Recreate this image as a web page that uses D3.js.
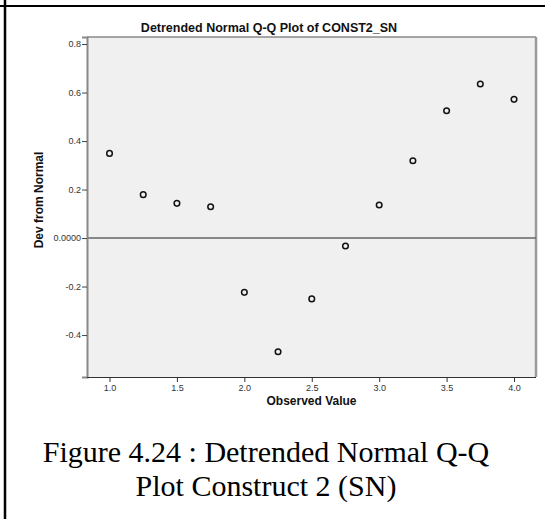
<!DOCTYPE html>
<html>
<head>
<meta charset="utf-8">
<script src="https://cdn.jsdelivr.net/npm/d3@7"></script>
<style>
  html, body { margin: 0; padding: 0; background: #fff; }
  svg { display: block; }
</style>
</head>
<body>
<svg id="chart" width="546" height="519"></svg>
<script>
// ---- data ----
const observedValues = [1.0, 1.25, 1.5, 1.75, 2.0, 2.25, 2.5, 2.75, 3.0, 3.25, 3.5, 3.75, 4.0];
const devFromNormal  = [0.349, 0.179, 0.143, 0.129, -0.224, -0.469, -0.251, -0.033, 0.136, 0.319, 0.525, 0.635, 0.572];
const xTicks = [1.0, 1.5, 2.0, 2.5, 3.0, 3.5, 4.0];
const yTicks = [0.8, 0.6, 0.4, 0.2, 0.0, -0.2, -0.4];
const chartTitle = "Detrended Normal Q-Q Plot of CONST2_SN";
const xTitle = "Observed Value";
const yTitle = "Dev from Normal";
const captionLines = ["Figure 4.24 : Detrended Normal Q-Q", "Plot Construct 2 (SN)"];

// ---- layout ----
const svg = d3.select("#chart");
const plot = { left: 87, right: 536, top: 37, bottom: 377 };
const x = d3.scaleLinear().domain([0.833, 4.163]).range([plot.left, plot.right]);
const y = d3.scaleLinear().domain([-0.573, 0.829]).range([plot.bottom, plot.top]);
const sans = "'Liberation Sans', Arial, sans-serif";
const locale = d3.formatLocale({ decimal: ".", thousands: ",", grouping: [3], currency: ["", ""], minus: "-" });
const f1 = locale.format(".1f");

// page border (table cell lines)
svg.append("line").attr("x1", 0).attr("x2", 545).attr("y1", 6).attr("y2", 6)
  .attr("stroke", "#000").attr("stroke-width", 2);
svg.append("line").attr("x1", 5).attr("x2", 5).attr("y1", 0).attr("y2", 519)
  .attr("stroke", "#000").attr("stroke-width", 2.5);

// plot background
svg.append("rect")
  .attr("x", plot.left).attr("y", plot.top)
  .attr("width", plot.right - plot.left).attr("height", plot.bottom - plot.top)
  .attr("fill", "#f0f0f0");

// frame: top + right gray
svg.append("line").attr("x1", plot.left).attr("x2", plot.right).attr("y1", plot.top).attr("y2", plot.top)
  .attr("stroke", "#8a8a8a").attr("stroke-width", 1.5);
svg.append("line").attr("x1", plot.right).attr("x2", plot.right).attr("y1", plot.top).attr("y2", plot.bottom)
  .attr("stroke", "#9a9a9a").attr("stroke-width", 2.5);

// zero reference line
svg.append("line")
  .attr("x1", plot.left).attr("x2", plot.right)
  .attr("y1", y(0)).attr("y2", y(0))
  .attr("stroke", "#666").attr("stroke-width", 1.6);

// y axis
const yAxis = d3.axisLeft(y).tickValues(yTicks).tickSize(5).tickPadding(1)
  .tickFormat(d => d === 0 ? "0.0000" : f1(d));
const gy = svg.append("g").attr("transform", `translate(${plot.left},0)`).call(yAxis);
gy.select(".domain").attr("stroke", "#888").attr("stroke-width", 2);
gy.selectAll(".tick line").attr("stroke", "#444").attr("stroke-width", 1);
gy.selectAll(".tick text").attr("font-family", sans).attr("font-size", 9).attr("fill", "#333");

// x axis
const xAxis = d3.axisBottom(x).tickValues(xTicks).tickSize(5).tickPadding(3)
  .tickFormat(f1);
const gx = svg.append("g").attr("transform", `translate(0,${plot.bottom})`).call(xAxis);
gx.select(".domain").attr("stroke", "#333").attr("stroke-width", 1.2)
  .attr("d", `M${plot.left},0.5H${plot.right}`);
gx.selectAll(".tick line").attr("stroke", "#333");
gx.selectAll(".tick text").attr("font-family", sans).attr("font-size", 9).attr("fill", "#333");

// points
svg.append("g").selectAll("circle")
  .data(observedValues.map((v, i) => ({ x: v, y: devFromNormal[i] })))
  .join("circle")
  .attr("cx", d => x(d.x)).attr("cy", d => y(d.y))
  .attr("r", 2.8)
  .attr("fill", "none").attr("stroke", "#111").attr("stroke-width", 1.5);

// titles
svg.append("text").attr("x", 269).attr("y", 32).attr("text-anchor", "middle")
  .attr("font-family", sans).attr("font-weight", "bold").attr("font-size", 12.5)
  .attr("fill", "#111").text(chartTitle);
svg.append("text").attr("x", (plot.left + plot.right) / 2).attr("y", 405).attr("text-anchor", "middle")
  .attr("font-family", sans).attr("font-weight", "bold").attr("font-size", 12)
  .attr("fill", "#111").text(xTitle);
svg.append("text").attr("transform", "translate(43,200) rotate(-90)").attr("text-anchor", "middle")
  .attr("font-family", sans).attr("font-weight", "bold").attr("font-size", 12)
  .attr("fill", "#111").text(yTitle);

// caption
svg.append("g").selectAll("text").data(captionLines).join("text")
  .attr("x", 266).attr("y", (d, i) => 462 + i * 34)
  .attr("text-anchor", "middle")
  .attr("font-family", "'Liberation Serif', 'Times New Roman', serif")
  .attr("font-size", 30).attr("fill", "#000")
  .text(d => d);
</script>
</body>
</html>
